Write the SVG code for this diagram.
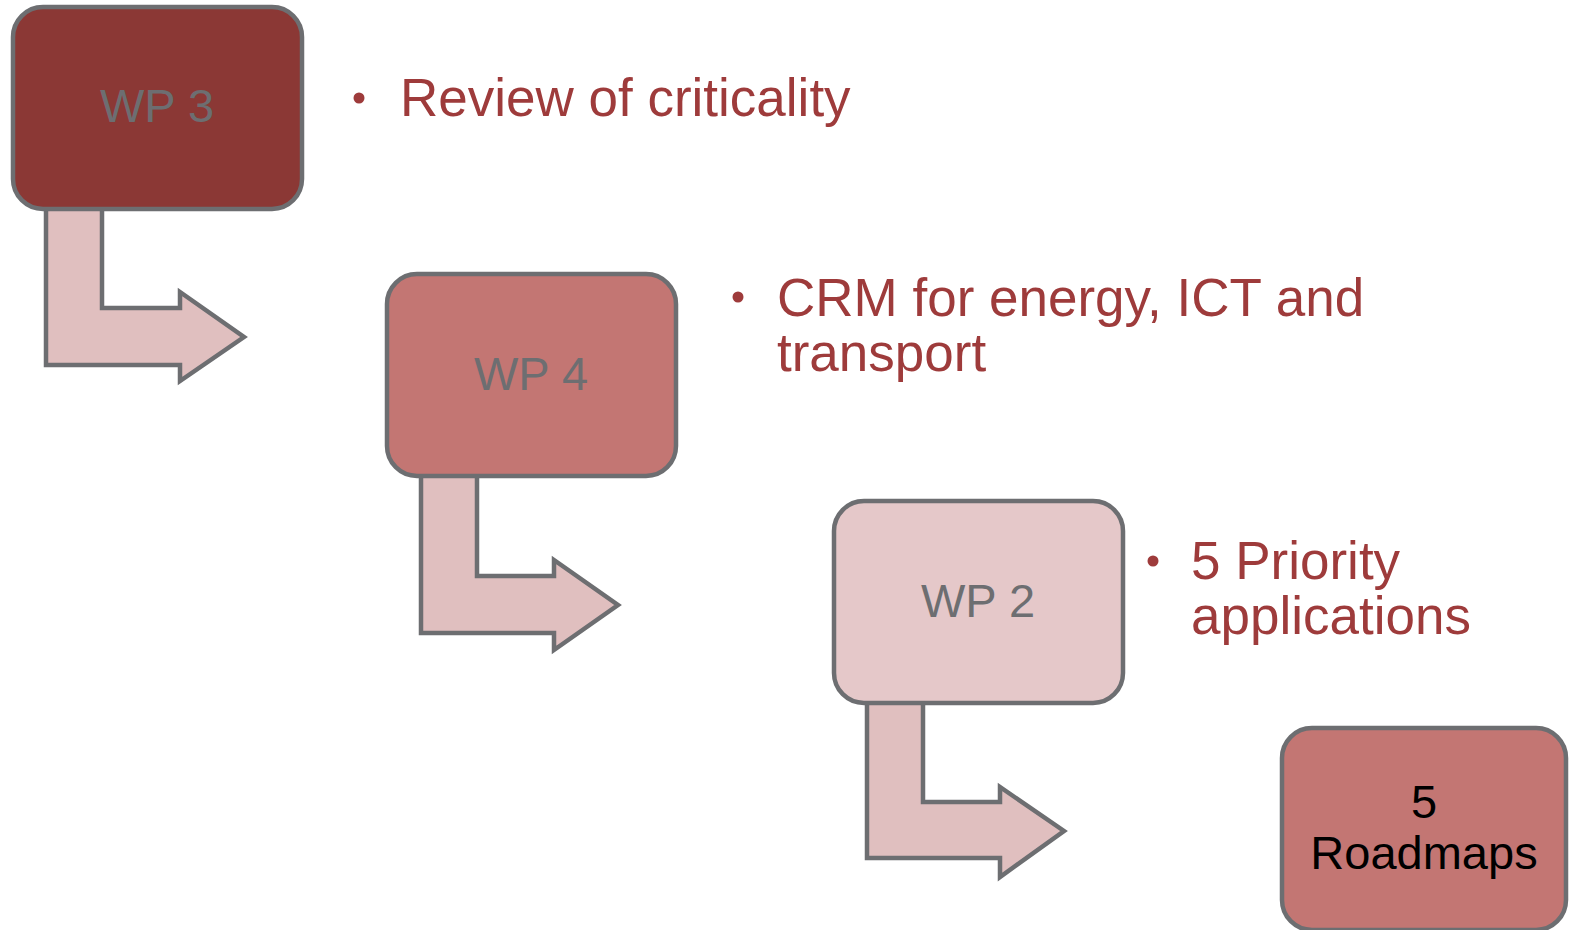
<svg xmlns="http://www.w3.org/2000/svg" width="1570" height="930" viewBox="0 0 1570 930">
  <style>
    .box { stroke: #6d6e71; stroke-width: 4.5; }
    .bent { fill: #e0bfbf; stroke: #6d6e71; stroke-width: 4.5; stroke-linejoin: miter; }
    .wp { font-family: "Liberation Sans", Arial, sans-serif; font-size: 47px; fill: #6d6e71; text-anchor: middle; }
    .note { font-family: "Liberation Sans", Arial, sans-serif; font-size: 53px; fill: #9e3b3b; }
    .dot { fill: #9e3b3b; }
    .out { font-family: "Liberation Sans", Arial, sans-serif; font-size: 47px; fill: #000000; text-anchor: middle; }
  </style>
  <rect width="1570" height="930" fill="#ffffff"/>

  <!-- bent arrows linking each work package to the next -->
  <g id="connectors">
    <path class="bent" d="M46,200 L102,200 L102,308 L180,308 L180,292 L244,337 L180,381 L180,365 L46,365 Z"/>
    <path class="bent" d="M421,468 L477,468 L477,576 L554,576 L554,560 L618,605 L554,650 L554,633 L421,633 Z"/>
    <path class="bent" d="M867,694 L923,694 L923,802 L1000,802 L1000,787 L1064,831 L1000,877 L1000,858 L867,858 Z"/>
  </g>

  <g id="wp3">
    <rect class="box" x="13" y="7" width="289" height="202" rx="30" fill="#8b3835"/>
    <text class="wp" x="157" y="122">WP 3</text>
  </g>
  <g id="wp3-note">
    <circle class="dot" cx="359" cy="98" r="5.5"/>
    <text class="note" x="400" y="116">Review of criticality</text>
  </g>

  <g id="wp4">
    <rect class="box" x="387" y="274" width="289" height="202" rx="30" fill="#c37673"/>
    <text class="wp" x="531" y="390">WP 4</text>
  </g>
  <g id="wp4-note">
    <circle class="dot" cx="738" cy="297" r="5.5"/>
    <text class="note" x="777" y="316">CRM for energy, ICT and</text>
    <text class="note" x="777" y="371">transport</text>
  </g>

  <g id="wp2">
    <rect class="box" x="834" y="501" width="289" height="202" rx="30" fill="#e5c8c9"/>
    <text class="wp" x="978" y="617">WP 2</text>
  </g>
  <g id="wp2-note">
    <circle class="dot" cx="1153" cy="561" r="5.5"/>
    <text class="note" x="1191" y="579">5 Priority</text>
    <text class="note" x="1191" y="634">applications</text>
  </g>

  <g id="roadmaps">
    <rect class="box" x="1282" y="728" width="284" height="202" rx="30" fill="#c37673"/>
    <text class="out" x="1424" y="818">5</text>
    <text class="out" x="1424" y="869">Roadmaps</text>
  </g>
</svg>
